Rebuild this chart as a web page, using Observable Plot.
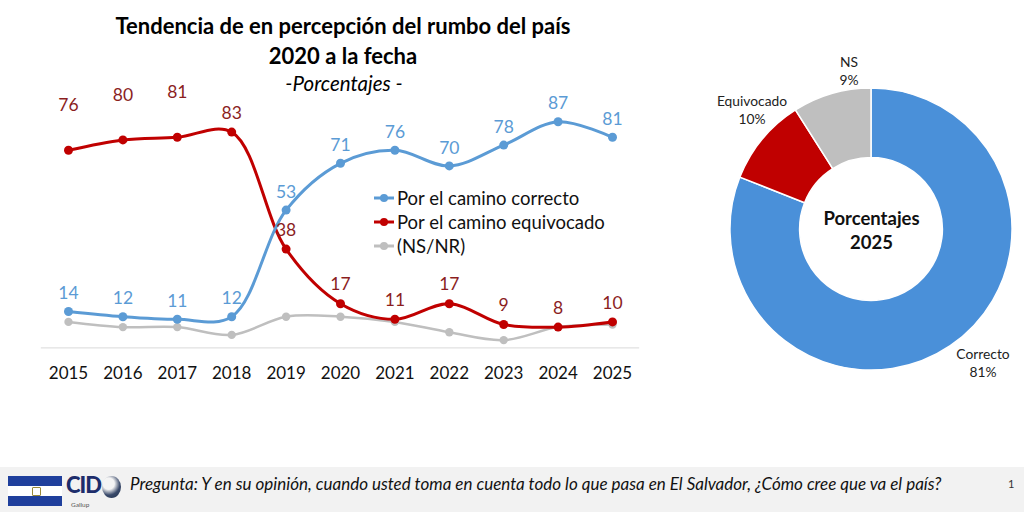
<!DOCTYPE html>
<html><head><meta charset="utf-8">
<script src="https://cdn.jsdelivr.net/npm/d3@7"></script>
<script src="https://cdn.jsdelivr.net/npm/@observablehq/plot@0.6"></script>
<style>
  html,body{margin:0;padding:0;background:#fff;}
  #root{position:relative;width:1024px;height:512px;overflow:hidden;font-family:Lato,"Open Sans",sans-serif;color:#000;}
  .abs{position:absolute;white-space:nowrap;}
  .ctr{transform:translate(-50%,-50%);text-align:center;}
  .leg{position:absolute;display:flex;align-items:center;font-size:18.5px;color:#111;transform:translateY(-50%);}
</style>
</head><body>
<div id="root">
  <div class="abs ctr" style="left:343px;top:25px;font-weight:700;font-size:22px;">Tendencia de en percepción del rumbo del país</div>
  <div class="abs ctr" style="left:343px;top:55px;font-weight:700;font-size:22px;">2020 a la fecha</div>
  <div class="abs ctr" style="left:344px;top:83px;font-style:italic;font-size:20.5px;">-Porcentajes -</div>
  <div id="line" class="abs" style="left:0;top:90px;"></div>
  <div id="legend"></div>
  <div id="donut" class="abs" style="left:720px;top:78px;"></div>
  <div id="dlabels"></div>
  <div class="abs" style="left:0;top:467px;width:1024px;height:45px;background:#f2f2f2;"></div>
  <div class="abs" style="left:8px;top:476px;width:54px;height:30px;background:linear-gradient(#1f3f9c 0 33%,#fff 33% 67%,#1f3f9c 67% 100%);"></div>
  <div class="abs" style="left:32px;top:487px;width:7px;height:7px;border:1px solid #9a8a3a;border-radius:1px;"></div>
  <div class="abs" style="left:66px;top:473px;font-weight:900;font-size:22px;line-height:24px;color:#1d2d6b;letter-spacing:-1px;">CID</div>
  <div class="abs" style="left:102px;top:476px;width:19px;height:22px;border-radius:50%;background:radial-gradient(circle at 35% 35%,#f4f4f4 0 30%,#3a4a6a 60%,#1d2d4b);"></div>
  <div class="abs" style="left:71px;top:501px;font-size:6.5px;line-height:7px;color:#555;">Gallup</div>
  <div class="abs" style="left:130px;top:473px;font-style:italic;font-size:17px;color:#111;">Pregunta: Y en su opinión, cuando usted toma en cuenta todo lo que pasa en El Salvador, ¿Cómo cree que va el país?</div>
  <div class="abs" style="left:1008px;top:477px;font-size:11px;color:#333;">1</div>
</div>
<script>
// ---- Data ----
const years = [2015, 2016, 2017, 2018, 2019, 2020, 2021, 2022, 2023, 2024, 2025];
const correcto = [14, 12, 11, 12, 53, 71, 76, 70, 78, 87, 81];
const equivocado = [76, 80, 81, 83, 38, 17, 11, 17, 9, 8, 10];
const nsnr = [10, 8, 8, 5, 12, 12, 10, 6, 3, 8, 9];
const seriesNames = ["Por el camino correcto", "Por el camino equivocado", "(NS/NR)"];
const seriesColors = ["#5B9BD5", "#C00000", "#BFBFBF"];
const labelColors = ["#5B9BD5", "#8B1E1E"];

const donutLabels = ["Correcto", "Equivocado", "NS"];
const donutValues = [81, 10, 9];
const donutColors = ["#4A90D9", "#C00000", "#BFBFBF"];
const donutTitle = ["Porcentajes", "2025"];

// ---- Line chart ----
const rows = [];
[correcto, equivocado, nsnr].forEach((arr, s) => arr.forEach((v, i) => rows.push({year: years[i], value: v, series: seriesNames[s], idx: i})));
const blueRows = rows.filter(d => d.series === seriesNames[0]);
const redRows = rows.filter(d => d.series === seriesNames[1]);
const grayRows = rows.filter(d => d.series === seriesNames[2]);

const line = Plot.plot({
  width: 660, height: 310,
  marginLeft: 40.8, marginRight: 20.8, marginTop: 10.4, marginBottom: 52.6,
  style: {fontFamily: "Lato, 'Open Sans', sans-serif", background: "transparent", overflow: "visible"},
  x: {domain: [2014.5, 2025.5], ticks: years, tickFormat: "d", label: null},
  y: {domain: [0, 95], axis: null},
  marks: [
    Plot.ruleY([0], {stroke: "#d9d9d9", strokeWidth: 1}),
    Plot.axisX({ticks: years, tickFormat: d => String(d), tickSize: 0, tickPadding: 19, fontSize: 17, color: "#111", label: null}),
    Plot.line(grayRows, {x: "year", y: "value", stroke: seriesColors[2], strokeWidth: 2.5, curve: "catmull-rom"}),
    Plot.dot(grayRows, {x: "year", y: "value", fill: seriesColors[2], r: 4.2}),
    Plot.line(redRows, {x: "year", y: "value", stroke: seriesColors[1], strokeWidth: 3, curve: "catmull-rom"}),
    Plot.dot(redRows, {x: "year", y: "value", fill: seriesColors[1], r: 4.5}),
    Plot.line(blueRows, {x: "year", y: "value", stroke: seriesColors[0], strokeWidth: 3, curve: "catmull-rom"}),
    Plot.dot(blueRows, {x: "year", y: "value", fill: seriesColors[0], r: 4.5}),
    Plot.text(blueRows, {x: "year", y: "value", text: "value", dy: -18, fill: labelColors[0], fontSize: 17.5}),
    Plot.text(redRows.filter(d => d.idx < 3), {x: "year", y: "value", text: "value", dy: -45, fill: labelColors[1], fontSize: 17.5}),
    Plot.text(redRows.filter(d => d.idx >= 3), {x: "year", y: "value", text: "value", dy: -19, fill: labelColors[1], fontSize: 17.5})
  ]
});
document.getElementById("line").appendChild(line);

// Legend
const legend = document.getElementById("legend");
seriesNames.forEach((name, i) => {
  const el = document.createElement("div");
  el.className = "leg";
  el.style.left = "373px";
  el.style.top = (198 + i * 24) + "px";
  el.innerHTML = `<svg width="22" height="20" style="margin-right:2px"><line x1="1" x2="21" y1="10" y2="10" stroke="${seriesColors[i]}" stroke-width="3"/><circle cx="11" cy="10" r="4" fill="${seriesColors[i]}"/></svg><span>${name}</span>`;
  legend.appendChild(el);
});

// ---- Donut ----
const colorScale = Plot.scale({color: {type: "ordinal", domain: donutLabels, range: donutColors}});
const pieData = d3.pie().sort(null).value(d => d.value)(donutLabels.map((l, i) => ({label: l, value: donutValues[i]})));
const donut = Plot.plot({
  width: 302, height: 302, margin: 0,
  style: {background: "transparent", overflow: "visible", fontFamily: "Lato, 'Open Sans', sans-serif"},
  x: {domain: [-1, 1], axis: null},
  y: {domain: [-1, 1], axis: null},
  marks: [
    (index, scales) => {
      const cx = scales.x(0), cy = scales.y(0);
      const unit = scales.x(1) - scales.x(0);
      const arc = d3.arc().innerRadius(0.473 * unit).outerRadius(0.934 * unit);
      const g = d3.create("svg:g").attr("transform", `translate(${cx},${cy})`);
      g.selectAll("path").data(pieData).join("path")
        .attr("d", arc)
        .attr("fill", d => colorScale.apply(d.data.label))
        .attr("stroke", "#fff").attr("stroke-width", 1.5);
      return g.node();
    },
    Plot.text([donutTitle.join("\n")], {x: 0, y: 0, text: d => d, fontSize: 18.5, fontWeight: 700, lineHeight: 1.3, fill: "#111"})
  ]
});
document.getElementById("donut").appendChild(donut);

const dl = document.getElementById("dlabels");
const dlPos = [[983, 363], [752, 110], [849, 71]];
donutLabels.forEach((l, i) => {
  const el = document.createElement("div");
  el.className = "abs ctr";
  el.style.left = dlPos[i][0] + "px";
  el.style.top = dlPos[i][1] + "px";
  el.style.fontSize = "13.8px";
  el.style.lineHeight = "18px";
  el.style.color = "#222";
  el.innerHTML = `${l}<br>${donutValues[i]}%`;
  dl.appendChild(el);
});
</script>
</body></html>
